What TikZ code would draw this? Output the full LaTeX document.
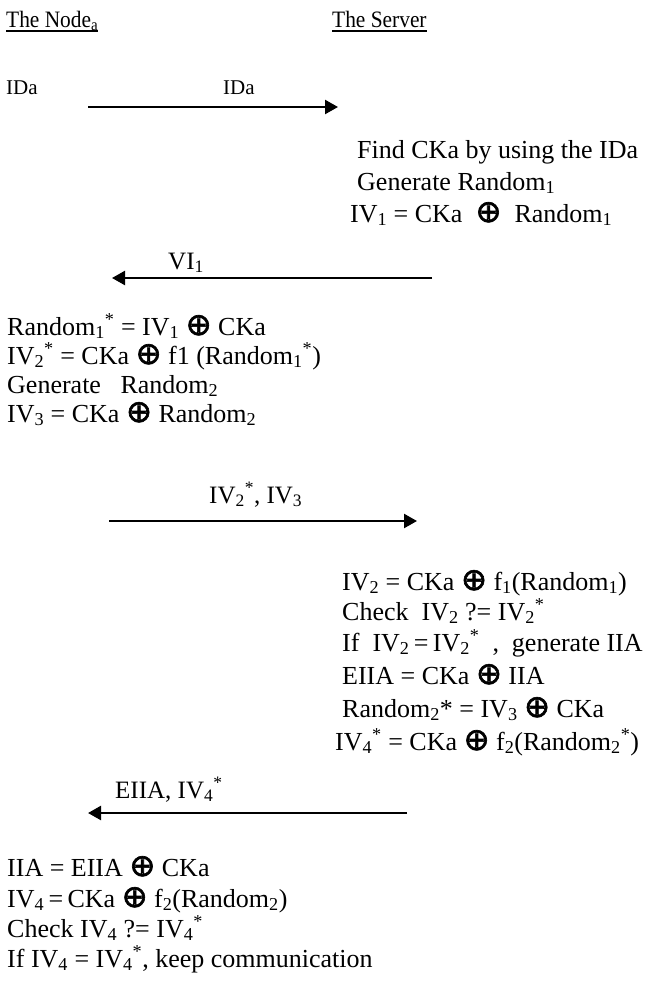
\documentclass[tikz,border=0pt]{standalone}
\usepackage{fontspec}
\usepackage{graphicx}
\setmainfont{Liberation Serif}
\newfontfamily\xofont[FakeBold=2]{DejaVu Sans}
\usetikzlibrary{arrows.meta}
% exclusive-or sign used in the equations
\newcommand\xo{{\xofont\fontsize{31}{31}\selectfont ⊕}}
\newcommand\lo[1]{\textsubscript{#1}}
\newcommand\hi[1]{\textsuperscript{#1}}
% slightly condensed title lettering
\newcommand\narrow[1]{\scalebox{0.91}[1]{#1}}
\begin{document}
\begin{tikzpicture}[x=1pt,y=-1pt,
  base/.style={anchor=base west,inner sep=0pt},
  head/.style={base,font=\fontsize{23.5}{28}\selectfont},
  small/.style={base,font=\fontsize{21}{25}\selectfont},
  txt/.style={base,font=\fontsize{26}{30}\selectfont},
  lbl/.style={base,font=\fontsize{25}{30}\selectfont},
  msg/.style={line width=2.4pt,-{Triangle[length=13pt,width=14pt]}}]
\useasboundingbox (0,0) rectangle (645,988);

% headers
\node[head] (hdrA) at (6,27) {\narrow{The Node\lo{a}}};
\node[head] (hdrB) at (332,27) {\narrow{The Server}};
\draw[line width=1.5pt] ([yshift=-4pt]hdrA.base west) -- ([yshift=-4pt]hdrA.base east);
\draw[line width=1.5pt] ([yshift=-4pt]hdrB.base west) -- ([yshift=-4pt]hdrB.base east);

% step 1
\node[small] (ida) at (6,94) {IDa};
\node[small] (lbl1) at (223,94) {IDa};
\coordinate (m1s) at (88,107);
\coordinate (m1e) at (338,107);
\draw[msg] (m1s) -- (m1e);

% server: lookup
\node[txt] (s1) at (357,158) {Find CKa by using the IDa};
\node[txt] (s2) at (357,190) {Generate Random\lo{1}};
\node[txt] (s3) at (350,222) {IV\lo{1} = CKa \ \xo\ \ Random\lo{1}};

% step 2
\node[lbl] (lbl2) at (168,269) {VI\lo{1}};
\coordinate (m2s) at (432,278);
\coordinate (m2e) at (112,278);
\draw[msg] (m2s) -- (m2e);

% node: checks
\node[txt] (a1) at (7,335) {Random\lo{1}\hi{*} = IV\lo{1} \xo{} CKa};
\node[txt] (a2) at (7,364) {IV\lo{2}\hi{*} = CKa \xo{} f1 (Random\lo{1}\hi{*})};
\node[txt] (a3) at (7,393) {Generate \ \ Random\lo{2}};
\node[txt] (a4) at (7,422) {IV\lo{3} = CKa \xo{} Random\lo{2}};

% step 3
\node[lbl] (lbl3) at (209,503) {IV\lo{2}\hi{*}, IV\lo{3}};
\coordinate (m3s) at (109,521);
\coordinate (m3e) at (417,521);
\draw[msg] (m3s) -- (m3e);

% server: verification
\node[txt] (b1) at (342,590) {IV\lo{2} = CKa \xo{} f\lo{1}(Random\lo{1})};
\node[txt] (b2) at (342,620) {Check \ IV\lo{2} ?= IV\lo{2}\hi{*}};
\node[txt] (b3) at (342,651) {If \ IV\lo{2}\,=\,IV\lo{2}\hi{*} \ , \ generate IIA};
\node[txt] (b4) at (342,684) {EIIA = CKa \xo{} IIA};
\node[txt] (b5) at (342,717) {Random\lo{2}* = IV\lo{3} \xo{} CKa};
\node[txt] (b6) at (335,750) {IV\lo{4}\hi{*} = CKa \xo{} f\lo{2}(Random\lo{2}\hi{*})};

% step 4
\node[lbl] (lbl4) at (115,798) {EIIA, IV\lo{4}\hi{*}};
\coordinate (m4s) at (407,813);
\coordinate (m4e) at (88,813);
\draw[msg] (m4s) -- (m4e);

% node: final check
\node[txt] (c1) at (7,876) {IIA = EIIA \xo{} CKa};
\node[txt] (c2) at (7,907) {IV\lo{4}\,=\,CKa \xo{} f\lo{2}(Random\lo{2})};
\node[txt] (c3) at (7,937) {Check IV\lo{4} ?= IV\lo{4}\hi{*}};
\node[txt] (c4) at (7,967) {If IV\lo{4} = IV\lo{4}\hi{*}, keep communication};
\end{tikzpicture}
\end{document}
